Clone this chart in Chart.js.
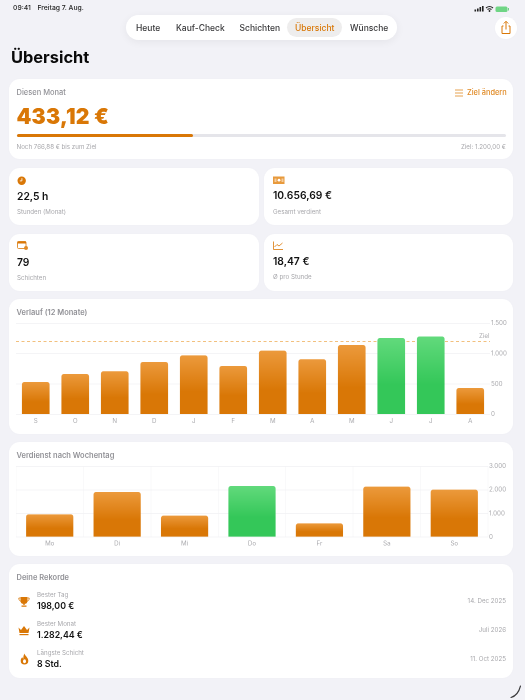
<!DOCTYPE html>
<html lang="de"><head><meta charset="utf-8">
<script src="https://cdn.jsdelivr.net/npm/chart.js@4/dist/chart.umd.min.js"></script>
<style>
html,body{margin:0;padding:0}
body{width:525px;height:700px;background:#f2f2f7;position:relative;overflow:hidden;font-family:Inter,"Noto Sans",sans-serif;color:#111}
#root{position:absolute;inset:0;filter:blur(.3px)}
.a{position:absolute;white-space:nowrap;line-height:1}
.card{position:absolute;background:#fff;border-radius:11px;box-shadow:0 0 3px rgba(0,0,0,.02)}
.h{font-size:7.5px;font-weight:600;color:#929297}
.s{font-size:6.2px;color:#a8a8ac}
.v{font-size:10.3px;font-weight:600;color:#111}
.r{font-size:8.8px;font-weight:600;color:#111}
.nav{font-size:8.5px;font-weight:500;color:#3a3a3c;top:23.5px}
canvas{position:absolute}
svg{position:absolute}
</style></head><body><div id="root">
<div class="a" style="left:13px;top:5px;font-size:6.8px;font-weight:500;color:#222">09:41</div>
<div class="a" style="left:37.5px;top:5px;font-size:6.8px;font-weight:500;color:#222">Freitag 7. Aug.</div>
<svg style="left:474px;top:5px" width="36" height="8" viewBox="0 0 36 8">
<rect x="0.5" y="4.5" width="1.6" height="2" fill="#222"/><rect x="3" y="3.5" width="1.6" height="3" fill="#222"/><rect x="5.5" y="2" width="1.6" height="4.5" fill="#222"/><rect x="8" y="1" width="1.6" height="5.5" fill="#222"/>
<path d="M12 3 Q15.5 0 19 3 M13.5 4.5 Q15.5 3 17.5 4.5" stroke="#222" fill="none" stroke-width="1.1"/><circle cx="15.5" cy="6" r=".9" fill="#222"/>
<rect x="21.5" y="1.5" width="12" height="5.5" rx="1.5" fill="#6fd585"/><rect x="34" y="3" width="1" height="2.5" fill="#6fd585"/></svg>

<div class="card" style="left:126px;top:15px;width:271px;height:25px;border-radius:12.5px;box-shadow:0 2px 8px rgba(0,0,0,.06)"></div>
<div class="a" style="left:287px;top:18px;width:55px;height:19px;border-radius:9.5px;background:#eeeded"></div>
<div class="a nav" style="left:136px">Heute</div>
<div class="a nav" style="left:176px">Kauf-Check</div>
<div class="a nav" style="left:239.5px">Schichten</div>
<div class="a nav" style="left:295px;color:#d97706">Übersicht</div>
<div class="a nav" style="left:350px">Wünsche</div>
<div class="card" style="left:495px;top:17px;width:22px;height:22px;border-radius:11px"></div>
<svg style="left:499px;top:20px" width="14" height="15" viewBox="0 0 14 15" fill="none" stroke="#d97706" stroke-width="1"><path d="M4.5 6H3v7.5h8V6H9.5M7 9.5V1.5M4.8 3.5L7 1.3l2.2 2.2"/></svg>
<div class="a" style="left:11px;top:49px;font-size:16.4px;font-weight:700;color:#0a0a0a">Übersicht</div>

<div class="card" style="left:8.5px;top:79px;width:504.5px;height:80px"></div>
<div class="a h" style="left:16.5px;top:88.5px;font-weight:500">Diesen Monat</div>
<svg style="left:454px;top:88px" width="10" height="10" viewBox="0 0 10 10" stroke="#e08a25" stroke-width=".8"><path d="M1 2h8M1 5h8M1 8h8"/></svg>
<div class="a" style="left:467px;top:89px;font-size:7.4px;font-weight:500;color:#e08a25">Ziel ändern</div>
<div class="a" style="left:16.5px;top:105.5px;font-size:21.2px;font-weight:900;color:#d97706;letter-spacing:.2px">433,12 €</div>
<div class="a" style="left:16.5px;top:134px;width:489.5px;height:3px;border-radius:1.5px;background:#e5e5ea"></div>
<div class="a" style="left:16.5px;top:134px;width:176.5px;height:3px;border-radius:1.5px;background:#d97706"></div>
<div class="a s" style="left:16.5px;top:144px">Noch 766,88 € bis zum Ziel</div>
<div class="a s" style="right:19px;top:144px">Ziel: 1.200,00 €</div>

<div class="card" style="left:8.5px;top:168px;width:250px;height:57px"></div>
<div class="card" style="left:264px;top:168px;width:249px;height:57px"></div>
<div class="card" style="left:8.5px;top:233.5px;width:250px;height:57px"></div>
<div class="card" style="left:264px;top:233.5px;width:249px;height:57px"></div>
<svg style="left:17px;top:176px" width="10" height="10" viewBox="0 0 10 10"><circle cx="4.7" cy="4.7" r="4.2" fill="#d97706"/><path d="M4.9 2.2v2.7H2.8" stroke="#fff" stroke-width=".8" fill="none"/></svg>
<svg style="left:273px;top:176px" width="12" height="9" viewBox="0 0 12 9"><rect width="11.5" height="7.5" y=".5" fill="#e89a3c"/><circle cx="6" cy="4.2" r="1.4" fill="#fff"/><rect x="1.5" y="2.5" width="2" height="3.5" fill="#fff" opacity=".5"/><rect x="8.5" y="2.5" width="2" height="3.5" fill="#fff" opacity=".5"/></svg>
<svg style="left:17px;top:240px" width="12" height="11" viewBox="0 0 12 11"><rect x=".5" y="1.5" width="8.5" height="7" rx="1" fill="none" stroke="#d97706" stroke-width=".8"/><rect x=".5" y="1.5" width="8.5" height="2" fill="#d97706"/><circle cx="9" cy="8" r="2" fill="#e08a25"/></svg>
<svg style="left:273px;top:241px" width="11" height="10" viewBox="0 0 11 10" fill="none" stroke="#d97706" stroke-width=".8"><path d="M.5 .5v8h9.5"/><path d="M1.5 6l2.5-2.5 2 1.5L9.5 2"/></svg>
<div class="a v" style="left:17px;top:191px">22,5 h</div>
<div class="a v" style="left:273px;top:190px">10.656,69 €</div>
<div class="a v" style="left:17px;top:257px">79</div>
<div class="a v" style="left:273px;top:256px">18,47 €</div>
<div class="a s" style="left:17px;top:209px">Stunden (Monat)</div>
<div class="a s" style="left:273px;top:208.5px">Gesamt verdient</div>
<div class="a s" style="left:17px;top:274.5px">Schichten</div>
<div class="a s" style="left:273px;top:274px">Ø pro Stunde</div>

<div class="card" style="left:8.5px;top:299px;width:504.5px;height:134.5px"></div>
<div class="a h" style="left:16.5px;top:309px">Verlauf (12 Monate)</div>
<canvas id="c1" style="left:16px;top:318px;width:492px;height:112px"></canvas>

<div class="card" style="left:8.5px;top:441.5px;width:504.5px;height:114px"></div>
<div class="a h" style="left:16.5px;top:452px">Verdienst nach Wochentag</div>
<canvas id="c2" style="left:16px;top:461px;width:492px;height:90px"></canvas>

<div class="card" style="left:8.5px;top:564px;width:504.5px;height:113.5px"></div>
<div class="a h" style="left:16.5px;top:574px">Deine Rekorde</div>
<svg style="left:18px;top:595.5px" width="12" height="12" viewBox="0 0 12 12" fill="#d97706"><path d="M2.5 1h7v3.5a3.5 3.5 0 0 1-7 0zM5.3 7h1.4v2H5.3zM3.5 9.5h5v1.3h-5z"/><path d="M2.5 2H.8c0 2 .8 3 2.2 3.2M9.5 2h1.7c0 2-.8 3-2.2 3.2" fill="none" stroke="#d97706" stroke-width=".8"/></svg>
<svg style="left:18px;top:625px" width="12" height="11" viewBox="0 0 12 11" fill="#d97706"><path d="M.5 2.5L3 5 6 1l3 4 2.5-2.5-1 5.5h-9z"/><rect x="1.5" y="9" width="9" height="1.2"/></svg>
<svg style="left:19.5px;top:653px" width="9" height="12" viewBox="0 0 9 12"><path d="M4.5.5C5 3 8.3 4.5 8.3 7.7a3.8 3.8 0 0 1-7.6 0C.7 6 1.6 5 2.4 4.3c.2.8.5 1.2 1 1.4C3.2 4 3.6 2 4.5.5z" fill="#d97706"/><ellipse cx="4.5" cy="8.3" rx="1.5" ry="2" fill="#fff"/></svg>
<div class="a s" style="left:37px;top:591.5px">Bester Tag</div>
<div class="a r" style="left:37px;top:601.5px">198,00 €</div>
<div class="a s" style="left:37px;top:620.5px">Bester Monat</div>
<div class="a r" style="left:37px;top:630.5px">1.282,44 €</div>
<div class="a s" style="left:37px;top:649.5px">Längste Schicht</div>
<div class="a r" style="left:37px;top:659.5px">8 Std.</div>
<div class="a s" style="right:19px;top:597.5px">14. Dec 2025</div>
<div class="a s" style="right:19px;top:626.5px">Juli 2026</div>
<div class="a s" style="right:19px;top:655.5px">11. Oct 2025</div>
<svg style="left:505px;top:680px" width="20" height="20" viewBox="0 0 20 20" fill="none"><path d="M6 17.5 Q13 15.5 15.5 6" stroke="#3a3a3c" stroke-width="1.1" stroke-linecap="round"/></svg>
</div>
<script>
const monthLabels = ['S','O','N','D','J','F','M','A','M','J','J','A'];
const monthValues = [533,665,709,863,972,797,1049,907,1143,1258,1282,433];
const goalValue = 1200;
const monthTicks = [0,500,1000,1500];
const dayLabels = ['Mo','Di','Mi','Do','Fr','Sa','So'];
const dayValues = [962,1910,905,2165,580,2137,2009];
const dayTicks = [0,1000,2000,3000];
const goalLabel = 'Ziel';
const orange = ['#ec9a3c','#d97706'];
const green = ['#62da7c','#34c759'];
const fmt = new Intl.NumberFormat('de-DE');
const font = {family:'Inter, "Noto Sans", sans-serif', size:6.2};

function fill(isGreen){
  return function(c){
    const chart=c.chart, ya=chart.scales.y;
    const v=c.parsed?c.parsed.y:undefined;
    if(!ya || v===undefined) return orange[1];
    const top=ya.getPixelForValue(v), bot=ya.getPixelForValue(0);
    const p=isGreen(v)?green:orange;
    if(!isFinite(top)||!isFinite(bot)) return p[1];
    const g=chart.ctx.createLinearGradient(0,top,0,bot);
    g.addColorStop(0,p[0]); g.addColorStop(.62,p[1]); g.addColorStop(1,p[1]);
    return g;
  };
}
const goalPlugin={id:'goal',beforeDatasetsDraw(chart){
  const {ctx,chartArea:a,scales:{y}}=chart, yy=y.getPixelForValue(goalValue);
  ctx.save();ctx.strokeStyle='rgba(232,150,40,.8)';ctx.lineWidth=.8;ctx.setLineDash([3,2.5]);
  ctx.beginPath();ctx.moveTo(a.left,yy);ctx.lineTo(a.right,yy);ctx.stroke();
  ctx.setLineDash([]);ctx.fillStyle='#a8a8ac';ctx.font='6.2px Inter, "Noto Sans", sans-serif';
  ctx.textAlign='right';ctx.textBaseline='bottom';ctx.fillText(goalLabel,a.right-0.5,yy-2.5);ctx.restore();
}};
function make(id,labels,values,ticks,isGreen,barPct,xGrid,xH,yW,plugins){
  return new Chart(document.getElementById(id),{
    type:'bar',
    data:{labels,datasets:[{data:values,backgroundColor:fill(isGreen),borderRadius:{topLeft:2.5,topRight:2.5},borderSkipped:'bottom',categoryPercentage:1,barPercentage:barPct}]},
    plugins,
    options:{responsive:false,animation:false,devicePixelRatio:2,
      layout:{padding:{top:5.3,right:0,bottom:0,left:0}},
      plugins:{legend:{display:false},tooltip:{enabled:false}},
      scales:{
        x:{offset:true,border:{display:false},
           grid:{display:xGrid,color:'#f5f5f7',lineWidth:.6,tickLength:0,drawTicks:false,offset:true},
           ticks:{font,color:'#a8a8ac',padding:3,maxRotation:0,autoSkip:false},
           afterFit(s){s.height=xH;}},
        y:{position:'right',min:ticks[0],max:ticks[ticks.length-1],afterBuildTicks(s){s.ticks=ticks.map(v=>({value:v}));},
           border:{display:false},
           grid:{color:'#f0f0f3',lineWidth:.7,drawTicks:false},
           ticks:{font,color:'#a8a8ac',padding:1,callback:v=>fmt.format(v)},
           afterFit(s){s.width=yW;}}
      }
    }
  });
}
const c1=document.getElementById('c1');c1.width=492;c1.height=112;
const c2=document.getElementById('c2');c2.width=492;c2.height=90;
make('c1',monthLabels,monthValues,monthTicks,v=>v>=goalValue,.70,false,15.7,18,[goalPlugin]);
make('c2',dayLabels,dayValues,dayTicks,v=>v===Math.max(...dayValues),.70,true,14,20,[]);
</script>
</body></html>
